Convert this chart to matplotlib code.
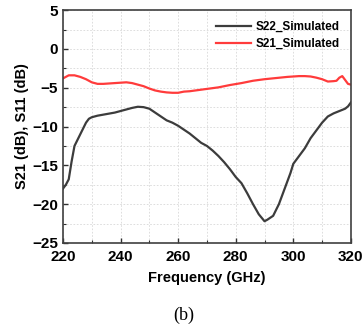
import numpy as np
import matplotlib.pyplot as plt
from matplotlib.ticker import MultipleLocator

# Dados
freq_s22 = [220, 221, 222, 223, 224, 226, 228, 229, 230, 232, 235, 238, 240, 242, 244,
            246, 248, 250, 252, 254, 256, 258, 260, 262, 264, 266, 268, 270, 272, 274,
            276, 278, 280, 282, 284, 286, 288, 290, 291, 293, 295, 297, 299, 300, 302,
            304, 306, 308, 310, 312, 314, 316, 318, 319, 320]
s22 = [-18.0, -17.5, -16.8, -14.5, -12.5, -11.0, -9.5, -9.0, -8.8, -8.6, -8.4, -8.2, -8.0,
       -7.8, -7.6, -7.45, -7.5, -7.7, -8.2, -8.7, -9.2, -9.5, -9.9, -10.4, -10.9, -11.5,
       -12.1, -12.5, -13.1, -13.8, -14.6, -15.5, -16.5, -17.3, -18.6, -20.0, -21.3, -22.2,
       -22.0, -21.5, -20.0, -18.0, -16.0, -14.8, -13.8, -12.8, -11.5, -10.5, -9.5, -8.7,
       -8.3, -8.0, -7.7, -7.4, -6.9]

freq_s21 = [220, 222, 224, 226, 228, 230, 232, 234, 236, 238, 240, 242, 244, 246, 248,
            250, 252, 254, 256, 258, 260, 262, 264, 266, 268, 270, 274, 278, 282, 286,
            290, 294, 298, 300, 302, 304, 306, 308, 310, 312, 314, 315, 316, 317, 318,
            319, 320]
s21 = [-3.8, -3.4, -3.4, -3.6, -3.9, -4.3, -4.5, -4.5, -4.45, -4.4, -4.35, -4.3, -4.4,
       -4.6, -4.8, -5.1, -5.35, -5.5, -5.6, -5.65, -5.65, -5.5, -5.45, -5.35, -5.25,
       -5.15, -4.95, -4.65, -4.4, -4.1, -3.9, -3.75, -3.6, -3.55, -3.5, -3.5, -3.55,
       -3.7, -3.9, -4.2, -4.15, -4.1, -3.7, -3.5, -4.0, -4.5, -4.6]

plt.rcParams['font.family'] = ['Liberation Sans', 'DejaVu Sans']
plt.rcParams['font.weight'] = 'bold'

fig = plt.figure(figsize=(3.64, 3.27), dpi=100)
ax = fig.add_axes([0.173, 0.257, 0.791, 0.712])

ax.plot(freq_s22, s22, color='#3c3c3c', lw=1.6, label='S22_Simulated')
ax.plot(freq_s21, s21, color='#ff3b3b', lw=1.6, label='S21_Simulated')

ax.set_xlim(220, 320)
ax.set_ylim(-25, 5)
ax.xaxis.set_major_locator(MultipleLocator(20))
ax.xaxis.set_minor_locator(MultipleLocator(10))
ax.yaxis.set_major_locator(MultipleLocator(5))
ax.yaxis.set_minor_locator(MultipleLocator(2.5))
ax.grid(which='both', color='#d8d8d8', linestyle=(0, (2, 2)), lw=0.6)
ax.tick_params(which='both', direction='in', labelsize=11, colors='#303030', labelcolor='black')
ax.tick_params(axis='x', pad=5)
ax.tick_params(which='major', length=3.5, width=1)
ax.tick_params(which='minor', length=2, width=0.8)
for s in ax.spines.values():
    s.set_color('#404040')
    s.set_linewidth(1.2)

ax.set_xlabel('Frequency (GHz)', fontsize=10.5, fontweight='bold', labelpad=5)
ax.set_ylabel('S21 (dB), S11 (dB)', fontsize=10.5, fontweight='bold', labelpad=2)

ax.legend(loc='upper right', frameon=False, fontsize=8.5, handlelength=3.0,
          borderaxespad=0.2, labelspacing=0.45, handletextpad=0.35,
          bbox_to_anchor=(0.985, 0.985))

fig.text(0.505, 0.036, '(b)', fontsize=13, family='Liberation Serif', fontweight='normal',
         ha='center', va='center')

fig.savefig('out.png', dpi=100)
